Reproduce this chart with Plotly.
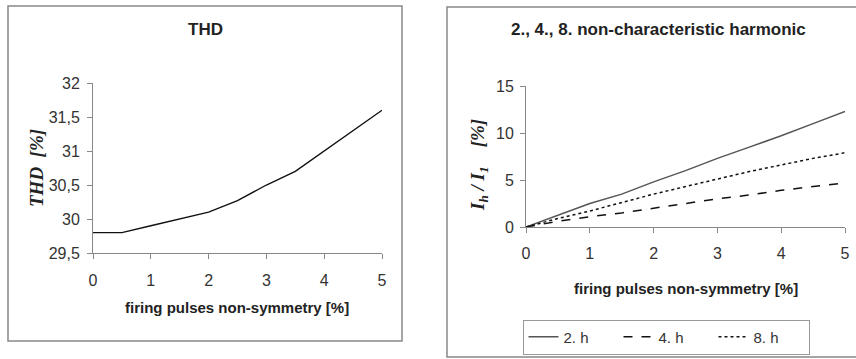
import plotly.graph_objects as go

W, H = 856, 359

# ---- data ----
x_thd = [0, 0.5, 1, 1.5, 2, 2.5, 3, 3.5, 4, 4.5, 5]
thd = [29.8, 29.8, 29.9, 30.0, 30.1, 30.27, 30.5, 30.7, 31.0, 31.3, 31.6]

x_h = [0, 0.5, 1, 1.5, 2, 2.5, 3, 3.5, 4, 4.5, 5]
h2 = [0, 1.25, 2.5, 3.5, 4.8, 6.0, 7.3, 8.5, 9.7, 11.0, 12.3]
h4 = [0, 0.6, 1.1, 1.5, 2.0, 2.5, 3.0, 3.4, 3.9, 4.3, 4.7]
h8 = [0, 0.9, 1.7, 2.6, 3.5, 4.3, 5.1, 5.9, 6.6, 7.3, 7.9]

thd_ticks = [29.5, 30, 30.5, 31, 31.5, 32]
thd_ticktext = ["29,5", "30", "30,5", "31", "31,5", "32"]
h_ticks = [0, 5, 10, 15]
x_ticks = [0, 1, 2, 3, 4, 5]

def px_x(p):
    return p / W

def px_y(p):
    return 1 - p / H

fig = go.Figure()

fig.add_trace(go.Scatter(x=x_thd, y=thd, mode="lines", line=dict(color="#111111", width=1.4),
                         xaxis="x", yaxis="y", showlegend=False))
fig.add_trace(go.Scatter(x=x_h, y=h2, mode="lines", name="2. h",
                         line=dict(color="#555555", width=1.5), xaxis="x2", yaxis="y2"))
fig.add_trace(go.Scatter(x=x_h, y=h4, mode="lines", name="4. h",
                         line=dict(color="#111111", width=1.5, dash="dash"), xaxis="x2", yaxis="y2"))
fig.add_trace(go.Scatter(x=x_h, y=h8, mode="lines", name="8. h",
                         line=dict(color="#111111", width=1.5, dash="dot"), xaxis="x2", yaxis="y2"))

axis_common = dict(showline=True, linecolor="#888888", linewidth=1, ticks="outside",
                   ticklen=5, tickcolor="#888888", showgrid=False, zeroline=False,
                   automargin=False,
                   tickfont=dict(family="Liberation Sans, Arial", size=16, color="#333333"))

fig.update_layout(
    width=W, height=H,
    margin=dict(l=0, r=0, t=0, b=0, autoexpand=False),
    paper_bgcolor="white", plot_bgcolor="white",
    xaxis=dict(domain=[px_x(93), px_x(382)], range=[0, 5], tickvals=x_ticks,
               anchor="y", ticklabelstandoff=8, **axis_common),
    yaxis=dict(domain=[px_y(253), px_y(83)], range=[29.5, 32], tickvals=thd_ticks,
               ticktext=thd_ticktext, anchor="x", ticklabelstandoff=4, **axis_common),
    xaxis2=dict(domain=[px_x(526), px_x(845)], range=[0, 5], tickvals=x_ticks,
                anchor="y2", ticklabelstandoff=7, **axis_common),
    yaxis2=dict(domain=[px_y(227), px_y(86)], range=[0, 15], tickvals=h_ticks,
                anchor="x2", ticklabelstandoff=3, **axis_common),
    showlegend=True,
    legend=dict(orientation="h", x=px_x(666), y=px_y(337), xanchor="center", yanchor="middle",
                bordercolor="#999999", borderwidth=1, bgcolor="white",
                font=dict(family="Liberation Sans, Arial", size=15, color="#333333"),
                itemwidth=30, tracegroupgap=0, entrywidth=50, entrywidthmode="pixels"),
)

title_font = dict(family="Liberation Sans, Arial", size=17, color="#222222")
xt_font = dict(family="Liberation Sans, Arial", size=15, color="#222222")
yt_font = dict(family="Liberation Serif, Times New Roman", size=19, color="#222222")
ann = [
    dict(text="<b>THD</b>", x=px_x(205), y=px_y(30), font=title_font),
    dict(text="<b>2., 4., 8. non-characteristic harmonic</b>", x=px_x(658), y=px_y(30), font=title_font),
    dict(text="<b>firing pulses non-symmetry [%]</b>", x=px_x(237), y=px_y(307), font=xt_font),
    dict(text="<b>firing pulses non-symmetry [%]</b>", x=px_x(686), y=px_y(288), font=xt_font),
    dict(text="<b><i>THD  [%]</i></b>", x=px_x(36), y=px_y(168), textangle=-90, font=yt_font),
    dict(text="<b><i>I<sub>h</sub> / I<sub>1</sub>    [%]</i></b>", x=px_x(479), y=px_y(165),
         textangle=-90, font=yt_font),
]
for a in ann:
    a.update(xref="paper", yref="paper", showarrow=False, xanchor="center", yanchor="middle")
fig.update_layout(annotations=ann)

shapes = [
    dict(type="rect", x0=px_x(8), x1=px_x(402), y0=px_y(341), y1=px_y(6),
         line=dict(color="#888888", width=1.5)),
    dict(type="rect", x0=px_x(447), x1=px_x(870), y0=px_y(357), y1=px_y(7),
         line=dict(color="#888888", width=1.5)),
]
for s in shapes:
    s.update(xref="paper", yref="paper", layer="below")
fig.update_layout(shapes=shapes)

fig.write_html("out.html")
